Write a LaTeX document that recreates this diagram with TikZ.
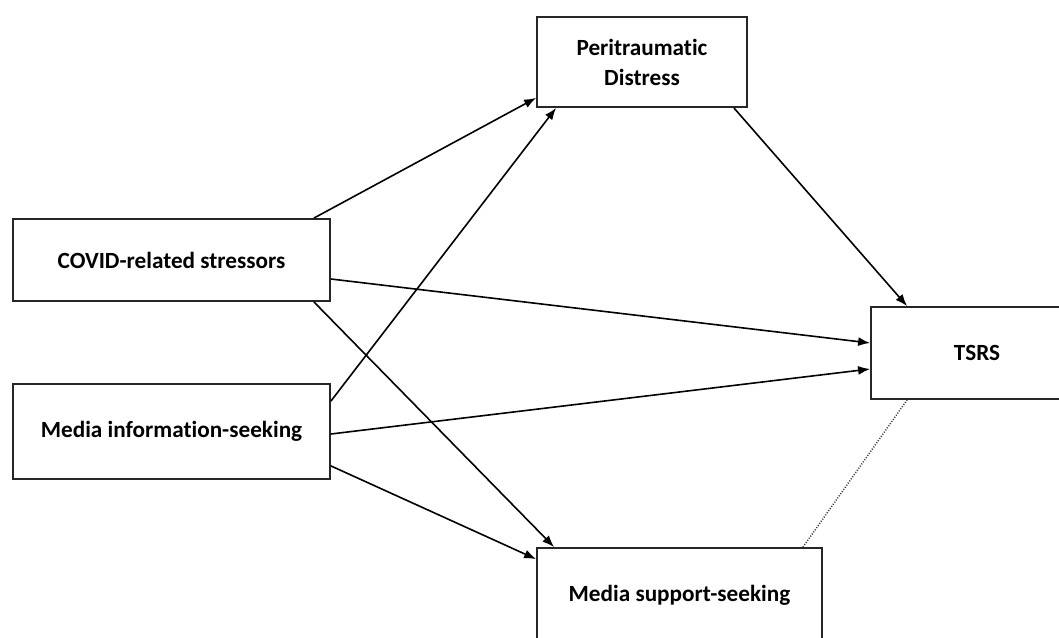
\documentclass[tikz,border=0pt]{standalone}
\usepackage{fontspec}
\setmainfont{Carlito}[Ligatures=NoCommon]
\usetikzlibrary{arrows.meta,calc}
\begin{document}
\begin{tikzpicture}[x=1pt,y=-1pt,
  box/.style={draw=black!85,line width=1.8pt,rectangle,inner sep=0pt,font=\bfseries\fontsize{23.2}{30}\selectfont,align=center},
  arr/.style={line width=1.6pt,-{Latex[length=12pt,width=9pt]}},
  dotarr/.style={line width=1.5pt,black!80,dash pattern=on 1pt off 1.6pt}]
\useasboundingbox (0,0) rectangle (1059,637);
\node[box,minimum width=210pt,minimum height=90pt] (pd) at (642,62) {Peritraumatic\\Distress};
\node[box,minimum width=317pt,minimum height=82pt] (cov) at (171.5,260) {COVID-related stressors};
\node[box,minimum width=317pt,minimum height=95pt] (info) at (171.5,431.5) {Media information-seeking};
\node[box,minimum width=212pt,minimum height=92pt] (tsrs) at (977,353) {TSRS};
\node[box,minimum width=285pt,minimum height=95pt] (ms) at (679.5,595.5) {Media support-seeking};
\draw[arr] ($(cov.north east)+(-17,0)$) -- ($(pd.south west)+(0,-10)$);
\draw[arr] ($(info.north east)+(0,18)$) -- ($(pd.south west)+(20,0)$);
\draw[arr] ($(pd.south east)+(-14,0)$) -- ($(tsrs.north west)+(37,0)$);
\draw[arr] ($(cov.east)+(0,19)$) -- ($(tsrs.west)+(0,-10)$);
\draw[arr] ($(info.east)+(0,2.5)$) -- ($(tsrs.west)+(0,16)$);
\draw[arr] ($(cov.south east)+(-17,0)$) -- ($(ms.north west)+(18,0)$);
\draw[arr] ($(info.south east)+(0,-14)$) -- ($(ms.north west)+(0,12)$);
\draw[dotarr] ($(ms.north east)+(-20,0)$) -- ($(tsrs.south west)+(37,0)$);
\end{tikzpicture}
\end{document}
